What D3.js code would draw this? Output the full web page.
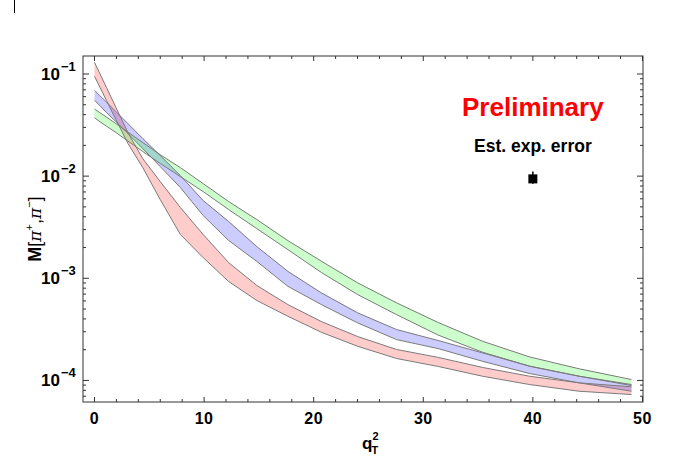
<!DOCTYPE html>
<html>
<head>
<meta charset="utf-8">
<script src="https://cdn.jsdelivr.net/npm/d3@7"></script>
<style>
  body { margin: 0; background: #fff; }
  text { font-family: "Liberation Sans", Arial, sans-serif; }
</style>
</head>
<body>
<script>
// qT^2 sample points
const qT2 = [0, 0.12, 0.49, 1.10, 1.96, 3.06, 4.41, 6.00, 7.84, 9.92, 12.25,
             14.82, 17.64, 20.70, 24.01, 27.56, 31.36, 35.40, 39.69, 44.22, 49.00];

// band limits
const redHi = [0.130, 0.122, 0.101, 0.0735, 0.0469, 0.0265, 0.0148, 0.00884, 0.00492, 0.00268, 0.00142,
               0.000849, 0.000553, 0.000377, 0.000269, 0.000201, 0.000168, 0.000134, 0.000110, 0.0000947, 0.0000866];
const redLo = [0.0947, 0.0894, 0.0743, 0.0548, 0.0357, 0.0208, 0.0121, 0.00589, 0.00268, 0.00159, 0.000928,
               0.000605, 0.000425, 0.000296, 0.000216, 0.000164, 0.000137, 0.000110, 0.0000912, 0.0000784, 0.0000728];
const blueHi = [0.0691, 0.0671, 0.0613, 0.0530, 0.0428, 0.0326, 0.0233, 0.0159, 0.0101, 0.00576, 0.00359,
                0.00204, 0.00117, 0.000720, 0.000459, 0.000315, 0.000246, 0.000186, 0.000138, 0.000110, 0.0000912];
const blueLo = [0.0552, 0.0536, 0.0490, 0.0418, 0.0341, 0.0261, 0.0186, 0.0124, 0.00772, 0.00411, 0.00234,
                0.00146, 0.000835, 0.000553, 0.000366, 0.000251, 0.000205, 0.000154, 0.000117, 0.0000947, 0.0000784];
const greenHi = [0.0455, 0.0445, 0.0418, 0.0378, 0.0326, 0.0269, 0.0213, 0.0162, 0.0121, 0.00844, 0.00563,
                 0.00375, 0.00234, 0.00147, 0.000902, 0.000575, 0.000369, 0.000242, 0.000170, 0.000130, 0.000102];
const greenLo = [0.0374, 0.0365, 0.0341, 0.0308, 0.0267, 0.0220, 0.0174, 0.0133, 0.00989, 0.00705, 0.00470,
                 0.00306, 0.00191, 0.00114, 0.000693, 0.000441, 0.000278, 0.000189, 0.000138, 0.000110, 0.0000891];

const xTicks = [0, 10, 20, 30, 40, 50];
const yTicks = [1e-1, 1e-2, 1e-3, 1e-4];
const yTickExp = ["\u22121", "\u22122", "\u22123", "\u22124"];

// estimated experimental error marker
const errPoint = { x: 40, y: 0.0094, hi: 0.0111, lo: 0.0084 };

const W = 683, H = 466;
const margin = { top: 56, right: 40, bottom: 64, left: 83 };
const width = W - margin.left - margin.right,
      height = H - margin.top - margin.bottom;

const svg = d3.select("body").append("svg")
    .attr("width", W)
    .attr("height", H);

// small stray mark at the top left of the original
svg.append("line")
    .attr("x1", 14.5).attr("x2", 14.5)
    .attr("y1", 0).attr("y2", 13)
    .attr("stroke", "#000");

const g = svg.append("g").attr("transform", `translate(${margin.left},${margin.top})`);

const x = d3.scaleLinear().domain([-1.05, 50.05]).range([0, width]);
const y = d3.scaleLog().domain([6.15e-5, 0.150]).range([height, 0]);

g.append("clipPath").attr("id", "clip")
    .append("rect").attr("width", width).attr("height", height);

const bands = [
    { hi: redHi, lo: redLo, color: "rgb(255,0,0)" },
    { hi: blueHi, lo: blueLo, color: "rgb(0,0,255)" },
    { hi: greenHi, lo: greenLo, color: "rgb(0,255,0)" }
];

const plot = g.append("g").attr("clip-path", "url(#clip)");

bands.forEach(b => {
    const pts = qT2.map((q, i) => ({ q: q, hi: b.hi[i], lo: b.lo[i] }));
    const area = d3.area()
        .x(d => x(d.q))
        .y0(d => y(d.lo))
        .y1(d => y(d.hi));
    plot.append("path")
        .datum(pts)
        .attr("fill", b.color)
        .attr("fill-opacity", 0.2)
        .attr("d", area);
});

bands.forEach(b => {
    const pts = qT2.map((q, i) => ({ q: q, hi: b.hi[i], lo: b.lo[i] }));
    ["hi", "lo"].forEach(k => {
        plot.append("path")
            .datum(pts)
            .attr("fill", "none")
            .attr("stroke", "#7a7a7a")
            .attr("stroke-width", 1)
            .attr("d", d3.line().x(d => x(d.q)).y(d => y(d[k])));
    });
});

// frame
g.append("rect")
    .attr("width", width).attr("height", height)
    .attr("fill", "none")
    .attr("stroke", "#333")
    .attr("stroke-width", 1);

// x ticks (bottom + top, inward)
const xMinor = d3.range(0, 51, 2);
xMinor.forEach(v => {
    const major = v % 10 === 0;
    const len = major ? 5 : 3;
    g.append("line").attr("x1", x(v)).attr("x2", x(v))
        .attr("y1", height).attr("y2", height - len).attr("stroke", "#333");
    g.append("line").attr("x1", x(v)).attr("x2", x(v))
        .attr("y1", 0).attr("y2", len).attr("stroke", "#333");
});

g.selectAll(".xlab")
    .data(xTicks)
    .enter().append("text")
    .attr("x", d => x(d))
    .attr("y", height + 22)
    .attr("text-anchor", "middle")
    .attr("font-size", 16)
    .attr("font-weight", "bold")
    .attr("letter-spacing", 0.5)
    .text(d => d);

// y ticks (left + right, inward)
const yMinor = [];
[1e-5, 1e-4, 1e-3, 1e-2, 1e-1].forEach(dec => {
    for (let m = 1; m < 10; m++) yMinor.push(dec * m);
});
yMinor.filter(v => v >= y.domain()[0] && v <= y.domain()[1]).forEach(v => {
    const major = Math.abs(Math.log10(v) - Math.round(Math.log10(v))) < 1e-6;
    const len = major ? 6 : 3;
    g.append("line").attr("x1", 0).attr("x2", len)
        .attr("y1", y(v)).attr("y2", y(v)).attr("stroke", "#333");
    g.append("line").attr("x1", width).attr("x2", width - len)
        .attr("y1", y(v)).attr("y2", y(v)).attr("stroke", "#333");
});

yTicks.forEach((v, i) => {
    g.append("text")
        .attr("x", -23)
        .attr("y", y(v) + 6)
        .attr("text-anchor", "end")
        .attr("font-size", 17)
        .attr("font-weight", "bold")
        .text("10");
    g.append("text")
        .attr("x", -22)
        .attr("y", y(v) - 3)
        .attr("text-anchor", "start")
        .attr("font-size", 13)
        .attr("font-weight", "bold")
        .text(yTickExp[i]);
});

// axis titles
const yl = svg.append("text")
    .attr("transform", `translate(41,${margin.top + height / 2}) rotate(-90)`)
    .attr("text-anchor", "middle")
    .attr("font-size", 18);
yl.append("tspan").attr("font-weight", "bold").text("M");
yl.append("tspan").text("[");
yl.append("tspan").attr("font-style", "italic").attr("font-family", "'DejaVu Serif', serif").attr("font-size", 17).text("\u03c0");
yl.append("tspan").attr("font-size", 11).attr("dy", -8).text("+");
yl.append("tspan").attr("dy", 8).text(",");
yl.append("tspan").attr("font-style", "italic").attr("font-family", "'DejaVu Serif', serif").attr("font-size", 17).text("\u03c0");
yl.append("tspan").attr("font-size", 11).attr("dy", -8).text("\u2212");
yl.append("tspan").attr("dy", 8).text("]");

const xl = svg.append("text")
    .attr("x", 362)
    .attr("y", 449)
    .attr("font-size", 17)
    .attr("font-weight", "bold");
xl.append("tspan").text("q");
xl.append("tspan").attr("font-size", 11).attr("dy", -9).text("2");
xl.append("tspan").attr("font-size", 11).attr("dx", -7).attr("dy", 14).text("T");

// annotations
g.append("text")
    .attr("x", x(40)).attr("y", y(0.0391))
    .attr("text-anchor", "middle")
    .attr("font-size", 26)
    .attr("font-weight", "bold")
    .attr("fill", "#ff0000")
    .text("Preliminary");

g.append("text")
    .attr("x", x(40)).attr("y", y(0.0171))
    .attr("text-anchor", "middle")
    .attr("font-size", 17.5)
    .attr("font-weight", "bold")
    .text("Est. exp. error");

g.append("line")
    .attr("x1", x(errPoint.x)).attr("x2", x(errPoint.x))
    .attr("y1", y(errPoint.hi)).attr("y2", y(errPoint.lo))
    .attr("stroke", "#000").attr("stroke-width", 1.5);
g.append("rect")
    .attr("x", x(errPoint.x) - 4.5).attr("y", y(errPoint.y) - 4.5)
    .attr("width", 9).attr("height", 9)
    .attr("fill", "#000");
</script>
</body>
</html>
